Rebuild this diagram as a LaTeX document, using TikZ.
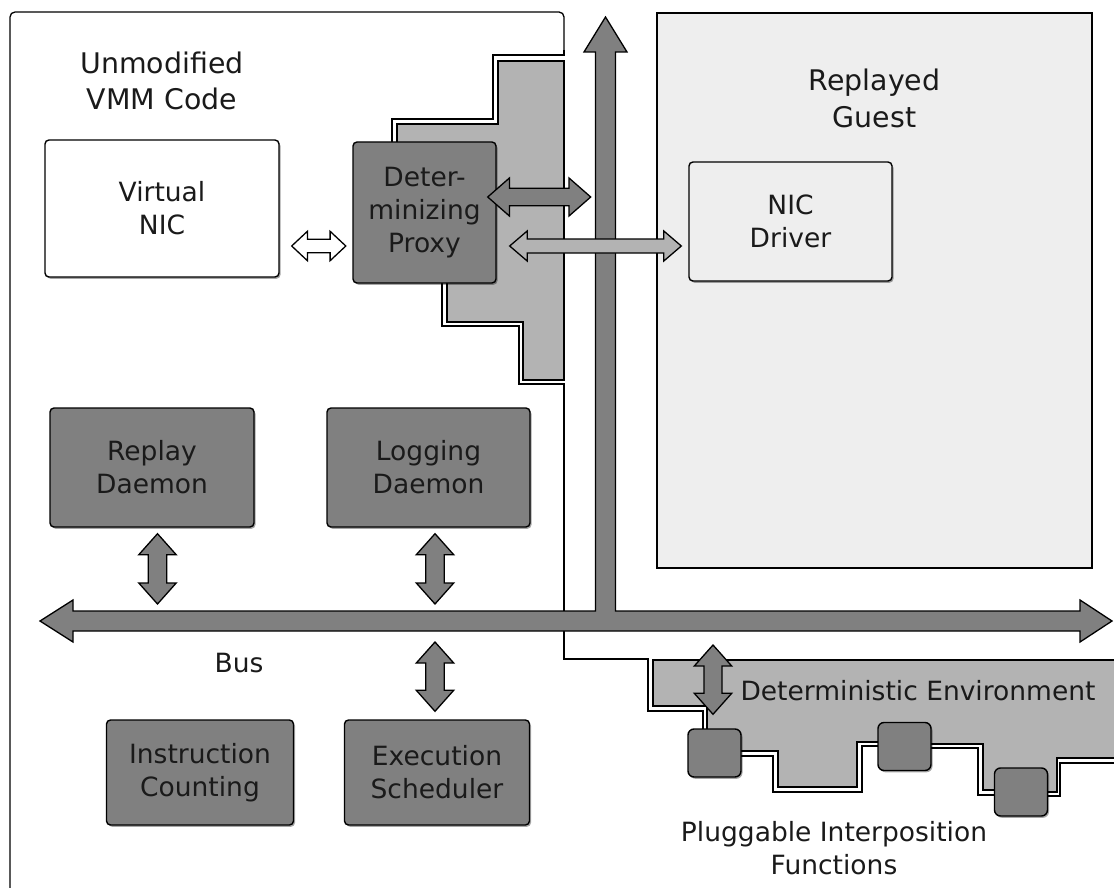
\documentclass[tikz,border=0pt]{standalone}
\usepackage{fontspec}
\setmainfont{DejaVu Sans}
\usepackage{xcolor}
\usepackage{tikz}
\usetikzlibrary{positioning,calc,shadows}

\definecolor{boxgray}{HTML}{808080}
\definecolor{zonegray}{HTML}{B3B3B3}
\definecolor{guestgray}{HTML}{EEEEEE}
\definecolor{ink}{HTML}{1A1A1A}

\newcommand{\lblfont}{\fontsize{26.5pt}{33pt}\selectfont}
\newcommand{\headfont}{\fontsize{28.4pt}{36.5pt}\selectfont}

% fat two-headed arrow: [fill]{from}{to}{head length}{head half width}{shaft half width}
\newcommand{\twoway}[6][boxgray]{%
  \path ($(#2)!#4!(#3)$) coordinate (tw1) ($(#3)!#4!(#2)$) coordinate (tw2);
  \filldraw[fill=#1, draw=black, line width=1.3pt]
    (#2) -- ($(tw1)!#5!90:(#3)$) -- ($(tw1)!#6!90:(#3)$)
    -- ($(tw2)!#6!-90:(#2)$) -- ($(tw2)!#5!-90:(#2)$) -- (#3)
    -- ($(tw2)!#5!90:(#2)$) -- ($(tw2)!#6!90:(#2)$)
    -- ($(tw1)!#6!-90:(#3)$) -- ($(tw1)!#5!-90:(#3)$) -- cycle;
}

\begin{document}
\begin{tikzpicture}[
    x=1pt, y=-1pt,
    module/.style={rectangle, rounded corners=4pt, draw=black, line width=1.4pt, fill=boxgray,
      text=ink, font=\lblfont, align=center, inner sep=0pt,
      drop shadow={shadow xshift=1.5pt, shadow yshift=-1.8pt, fill=black, opacity=0.35}},
    pifbox/.style={module, minimum width=53pt, minimum height=48pt, rounded corners=6pt},
    region/.style={rectangle, draw=black, line width=1.3pt, fill=guestgray},
    zone/.style={fill=zonegray, draw=black, line width=1.2pt},
    outline/.style={draw=black, line width=1.3pt},
    caption/.style={font=\lblfont, text=ink, align=center, inner sep=0pt},
    heading/.style={font=\headfont, text=ink, align=center, inner sep=0pt},
  ]
  \useasboundingbox (0,0) rectangle (1114,888);

  % Replayed guest
  \node[region, minimum width=435pt, minimum height=555pt] (guest) at (874.5,290.5) {};

  % Proxy zone and deterministic environment
  \filldraw[zone] (498,61) -- (564,61) -- (564,380) -- (523,380) -- (523,322) -- (447,322)
    -- (447,250) -- (397,250) -- (397,124) -- (498,124) -- cycle;
  \filldraw[zone] (653,660) -- (1120,660) -- (1120,758) -- (1057,758) -- (1057,792) -- (1021,792)
    -- (1021,790) -- (983,790) -- (983,744) -- (904,744) -- (904,742) -- (857,742) -- (857,787)
    -- (778,787) -- (778,751) -- (707,751) -- (707,706) -- (653,706) -- cycle;

  % VMM code outline
  \draw[outline, rounded corners=5pt] (10,895) -- (10,12) -- (564,12) -- (564,55);
  \draw[outline] (564,50) -- (564,55) -- (493,55) -- (493,119) -- (392,119) -- (392,250)
    -- (442,250) -- (442,326) -- (519,326) -- (519,384) -- (564,384) -- (564,659) -- (648,659)
    -- (648,711) -- (703,711) -- (703,756) -- (773,756) -- (773,792) -- (862,792) -- (862,746)
    -- (904,746) -- (904,748) -- (978,748) -- (978,795) -- (1021,795) -- (1021,796) -- (1060,796)
    -- (1060,763) -- (1120,763);

  % Bus with branch to the guest
  \coordinate (busW) at (40,621);
  \coordinate (busE) at (1112,621);
  \filldraw[fill=boxgray, draw=black, line width=1.3pt] (busW) -- (73,600) -- (73,611)
    -- (595.5,611) -- (595.5,52) -- (584,52) -- (605.5,17) -- (627,52) -- (615.5,52)
    -- (615.5,611) -- (1080,611) -- (1080,600) -- (busE) -- (1080,642) -- (1080,631)
    -- (73,631) -- (73,642) -- cycle;

  % Boxes
  \node[module, fill=white, minimum width=234pt, minimum height=137pt] (vnic) at (162,208.5) {Virtual\\NIC};
  \node[module, minimum width=143pt, minimum height=141pt] (proxy) at (424.5,212.5) {Deter-\\minizing\\Proxy};
  \node[module, fill=guestgray, minimum width=203pt, minimum height=119pt] (nicdrv) at (790.5,221.5) {NIC\\Driver};
  \node[module, minimum width=204pt, minimum height=119pt] (replay) at (152,467.5) {Replay\\Daemon};
  \node[module, minimum width=203pt, minimum height=119pt] (logging) at (428.5,467.5) {Logging\\Daemon};
  \node[module, minimum width=187pt, minimum height=105pt] (instr) at (200,772.5) {Instruction\\Counting};
  \node[module, minimum width=185pt, minimum height=105pt] (exec) at (437,772.5) {Execution\\Scheduler};
  \node[pifbox] (pif1) at (714.5,753) {};
  \node[pifbox] (pif2) at (904.5,746.5) {};
  \node[pifbox] (pif3) at (1021,792) {};

  % Arrows
  \coordinate (vnicR) at ($(vnic.east)+(12,37.5)$);
  \coordinate (proxyL) at ($(proxy.west)+(-6.5,33.5)$);
  \twoway[white]{vnicR}{proxyL}{15.7pt}{14.7pt}{6.7pt}
  \coordinate (proxyR) at ($(proxy.east)+(-9,-15.5)$);
  \coordinate (shaftL) at ($(proxy.east)+(94,-15.5)$);
  \twoway{proxyR}{shaftL}{21.7pt}{19pt}{8.7pt}
  \coordinate (replayS) at ($(replay.south)+(5.5,6)$);
  \coordinate (replayB) at ($(replay.south |- busW)+(5.5,-17)$);
  \twoway{replayS}{replayB}{21pt}{18.7pt}{9.2pt}
  \coordinate (loggingS) at ($(logging.south)+(6.5,6)$);
  \coordinate (loggingB) at ($(logging.south |- busW)+(6.5,-17)$);
  \twoway{loggingS}{loggingB}{21pt}{18.7pt}{9.2pt}
  \coordinate (execB) at ($(exec.north |- busW)+(-2,21)$);
  \coordinate (execN) at ($(exec.north)+(-2,-8)$);
  \twoway{execB}{execN}{21pt}{18.7pt}{9.2pt}
  \coordinate (pifB) at ($(pif1.north |- busW)+(-1.5,24)$);
  \coordinate (pifN) at ($(pif1.north)+(-1.5,-14)$);
  \twoway{pifB}{pifN}{21pt}{18.7pt}{9pt}
  \coordinate (proxyR2) at ($(proxy.east)+(13,33.5)$);
  \coordinate (nicL) at ($(nicdrv.west)+(-7,24.5)$);
  \twoway[zonegray]{proxyR2}{nicL}{17.5pt}{15pt}{7pt}

  % Labels
  \node[heading] (vmmtitle) at (162,81) {Unmodified\\VMM Code};
  \node[heading] (guesttitle) at (874.5,98.4) {Replayed\\Guest};
  \node[caption, anchor=base] (bustext) at (239,672) {Bus};
  \node[caption, anchor=base] (detenv) at (918,700) {Deterministic Environment};
  \node[caption] (pifs) at (834,848) {Pluggable Interposition\\Functions};
\end{tikzpicture}
\end{document}
